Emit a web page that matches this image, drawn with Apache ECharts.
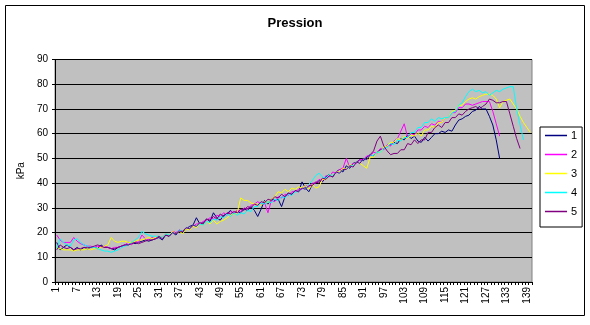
<!DOCTYPE html>
<html>
<head>
<meta charset="utf-8">
<title>Pression</title>
<script src="https://cdn.jsdelivr.net/npm/echarts@6/dist/echarts.min.js"></script>
<style>
  html, body { margin: 0; padding: 0; background: #ffffff; }
  #chart { width: 590px; height: 325px; }
</style>
</head>
<body>
<div id="chart"></div>
<script>
// Pressure readings (kPa) for five runs, one value per sample index
const categories = [];
for (let i = 1; i <= 140; i++) categories.push(String(i));

const seriesNames = ['1', '2', '3', '4', '5'];
const seriesColors = ['#000080', '#FF00FF', '#FFFF00', '#00FFFF', '#800080'];

const run1 = [
  16, 13, 14, 15, 14, 13, 14, 13, 14, 13.5,
  14, 14, 13.5, 15, 14, 14, 13.5, 13, 14, 14.5,
  15, 15, 16, 15.5, 16, 16.5, 17, 16.5, 17, 17.5,
  18, 17, 19, 18.5, 20, 19, 21, 20, 21.5, 22.5,
  23, 26, 23.5, 24, 25.5, 24.5, 28, 26, 25, 27,
  27.5, 29, 27.5, 28.5, 28, 29.5, 29, 30.5, 29, 26.5,
  29.5, 33, 31.5, 33.5, 33, 33.5, 30.5, 34.5, 36, 35.5,
  37, 36.5, 40.5, 38, 36.5, 39.5, 40, 41, 40.5, 42.5,
  43.5, 42.5, 44.5, 45.5, 44.5, 47, 46, 48, 48.5, 49.5,
  49, 50.5, 51.5, 51, 52.5, 53.5, 54, 55, 55.5, 56.5,
  56, 58, 57.5, 59.5, 58, 59, 57, 56.5, 58.5, 57,
  58.5, 60, 60, 61, 60.5, 61.5, 61, 63.5, 65.5, 66,
  67, 67.5, 69, 69.5, 71, 70, 70, 67, 63.5, 57.5,
  50
];

const run2 = [
  19, 17, 16, 16, 16, 18, 16.5, 15.5, 15, 14.5,
  14.5, 14, 14.5, 14, 14.5, 14, 13.5, 14, 14, 14.5,
  15, 16, 15, 16.5, 16, 19, 17.5, 17, 18, 17.5,
  18.5, 18, 19.5, 19, 20.5, 20, 21, 20.5, 22, 21.5,
  22.5, 23.5, 23.5, 24.5, 25, 26, 25.5, 27, 26.5, 28,
  27, 28.5, 28, 29, 28.5, 30, 29.5, 31, 31.5, 32.5,
  31.5, 32, 28, 33, 32.5, 34.5, 34, 35.5, 35, 36.5,
  36.5, 37.5, 37.5, 39, 38.5, 40, 40, 41.5, 41, 43,
  42.5, 44.5, 44, 45.5, 46, 50, 46.5, 48, 48, 49.5,
  49.5, 51, 51, 52.5, 52, 54, 53.5, 55.5, 55, 57,
  58, 61, 64, 58.5, 60, 59.5, 61.5, 61.5, 63, 62.5,
  64, 63.5, 65, 64.5, 66.5, 66.5, 68.5, 68.5, 70.5, 70.5,
  72, 72, 71.5, 72, 72.5, 73, 73, 73, 69, 64,
  59
];

const run3 = [
  14, 13.5, 13, 13, 13, 12.5, 13, 13, 13, 13.5,
  13, 13.5, 13.5, 14, 14.5, 15, 18, 16.5, 16, 16.5,
  16.5, 16, 16, 16.5, 17, 17, 17.5, 18, 17.5, 18,
  18.5, 18, 19.5, 19, 20.5, 19.5, 20.5, 19.5, 21.5, 21,
  22.5, 22, 23.5, 23, 24.5, 23.5, 25, 23.5, 24.5, 25,
  26, 27, 27.5, 28, 34, 33, 33, 32, 31.5, 31.5,
  31, 32.5, 32, 33.5, 34.5, 36.5, 36, 37.5, 36.5, 38,
  37.5, 38.5, 38, 39, 37.5, 39.5, 38, 38.5, 41.5, 41.5,
  43.5, 43, 44.5, 44.5, 46, 45.5, 47.5, 47, 48.5, 48,
  47, 46, 50.5, 50.5, 52.5, 52.5, 54.5, 55, 56.5, 56.5,
  58, 57.5, 59, 58, 59.5, 59, 60.5, 59, 61.5, 61.5,
  63, 62.5, 64.5, 64.5, 66.5, 66.5, 69, 69.5, 71.5, 71.5,
  73, 74, 74.5, 74, 75, 75.5, 76, 76, 75.5, 74,
  70.5, 73, 73.5, 74, 72, 70, 67, 64.5, 62.5, 60.5
];

const run4 = [
  13.5, 17.5, 16, 15, 14.5, 17, 17.5, 16, 15, 14.5,
  14, 14, 13.5, 13, 12.5, 12.5, 12, 12.5, 13, 14,
  14.5, 15, 16, 17, 18, 20.5, 19.5, 19, 18.5, 18.5,
  18.5, 18, 19.5, 19, 20, 19.5, 21, 20.5, 22, 21.5,
  23, 22.5, 23.5, 23, 24.5, 24, 25.5, 25, 26.5, 26,
  27.5, 26.5, 28, 27, 28, 27.5, 29, 28.5, 30.5, 30.5,
  32, 31.5, 32.5, 32, 33.5, 33, 34.5, 34, 35.5, 35,
  36.5, 36.5, 38, 37.5, 39.5, 41, 43, 44, 42.5, 42,
  43.5, 43, 44.5, 44, 45.5, 45.5, 47, 47, 48.5, 48,
  50, 49.5, 51.5, 51, 52.5, 52.5, 54, 54.5, 56, 55.5,
  57.5, 57, 58.5, 58.5, 60.5, 60.5, 62.5, 62.5, 64.5, 64.5,
  66, 65, 66.5, 66, 66.5, 66.5, 68.5, 69, 71.5, 72.5,
  75, 77, 78, 77, 77.5, 76.5, 77, 75.5, 76.5, 77.5,
  77, 78, 78.5, 79, 79, 70, 63.5, 57.5
];

const run5 = [
  13, 15, 14, 13.5, 14, 13, 13.5, 13.5, 14, 14,
  14, 14.5, 15, 14.5, 14, 14, 13.5, 13.5, 14, 14.5,
  15, 15, 15.5, 16, 15.5, 16, 16.5, 17, 17, 17.5,
  18.5, 17.5, 19, 18.5, 20, 19.5, 20.5, 20.5, 22, 21.5,
  23, 22.5, 24, 23.5, 25.5, 25, 26.5, 25.5, 27.5, 26.5,
  28, 27.5, 28.5, 28, 29.5, 29, 30.5, 30, 31.5, 31,
  32.5, 32, 33.5, 33, 34.5, 34, 35.5, 34.5, 36, 35.5,
  37, 36.5, 38, 37.5, 39, 39, 40.5, 40, 42, 41.5,
  43, 42.5, 44.5, 44, 45.5, 45.5, 47, 46.5, 48.5, 48,
  50, 49.5, 51.5, 53, 57, 59, 55, 53, 51.5, 52,
  52, 53.5, 53.5, 56, 55.5, 57.5, 56, 57.5, 57.5, 60.5,
  60.5, 62.5, 63.5, 62.5, 64.5, 64.5, 66.5, 66.5, 68, 67.5,
  69, 70, 70.5, 71, 70, 71, 72, 74, 73.5, 72.5,
  72.5, 73, 73, 68, 63, 58, 54
];

const runs = [run1, run2, run3, run4, run5];

const yTicks = { min: 0, max: 90, interval: 10 };

const font = 'Arial, "Liberation Sans", sans-serif';

const chart = echarts.init(document.getElementById('chart'), null, { renderer: 'canvas' });

chart.setOption({
  backgroundColor: '#ffffff',
  animation: false,
  title: {
    text: 'Pression',
    left: 'center',
    top: 12,
    textStyle: { fontFamily: font, fontSize: 13, fontWeight: 'bold', color: '#000000' }
  },
  graphic: [{
    type: 'rect',
    shape: { x: 5.5, y: 5.5, width: 579, height: 310 },
    style: { fill: 'none', stroke: '#000000', lineWidth: 1 },
    silent: true
  }],
  legend: {
    orient: 'vertical',
    left: 540,
    top: 127,
    data: seriesNames,
    icon: 'rect',
    itemWidth: 22,
    itemHeight: 1.5,
    itemGap: 6,
    padding: [2, 5, 9, 5],
    borderColor: '#000000',
    borderWidth: 1,
    backgroundColor: '#ffffff',
    textStyle: { fontFamily: font, fontSize: 11, color: '#000000', lineHeight: 13, padding: [0, 0, 0, -1] }
  },
  grid: {
    left: 55,
    top: 59.5,
    right: 58,
    bottom: 43,
    show: true,
    backgroundColor: '#C0C0C0',
    borderColor: '#808080',
    borderWidth: 1,
    containLabel: false
  },
  xAxis: {
    type: 'category',
    data: categories,
    boundaryGap: true,
    axisLine: { show: true, lineStyle: { color: '#000000', width: 1 } },
    axisTick: { show: true, interval: 0, length: 3, inside: false, lineStyle: { color: '#000000' } },
    axisLabel: {
      interval: 5,
      rotate: 90,
      margin: 5,
      fontFamily: font,
      fontSize: 10,
      color: '#000000'
    },
    splitLine: { show: false }
  },
  yAxis: {
    type: 'value',
    min: yTicks.min,
    max: yTicks.max,
    interval: yTicks.interval,
    name: 'kPa',
    nameLocation: 'middle',
    nameGap: 28,
    nameRotate: 90,
    nameTextStyle: { fontFamily: font, fontSize: 10, color: '#000000' },
    axisLine: { show: true, lineStyle: { color: '#000000', width: 1 } },
    axisTick: { show: true, length: 3, lineStyle: { color: '#000000' } },
    axisLabel: { fontFamily: font, fontSize: 10, color: '#000000', margin: 7 },
    splitLine: { show: true, lineStyle: { color: '#000000', width: 1 } }
  },
  series: runs.map((vals, k) => ({
    name: seriesNames[k],
    type: 'line',
    data: vals,
    symbol: 'none',
    showSymbol: false,
    smooth: false,
    color: seriesColors[k],
    lineStyle: { color: seriesColors[k], width: 1 },
    emphasis: { disabled: true }
  }))
});
</script>
</body>
</html>
